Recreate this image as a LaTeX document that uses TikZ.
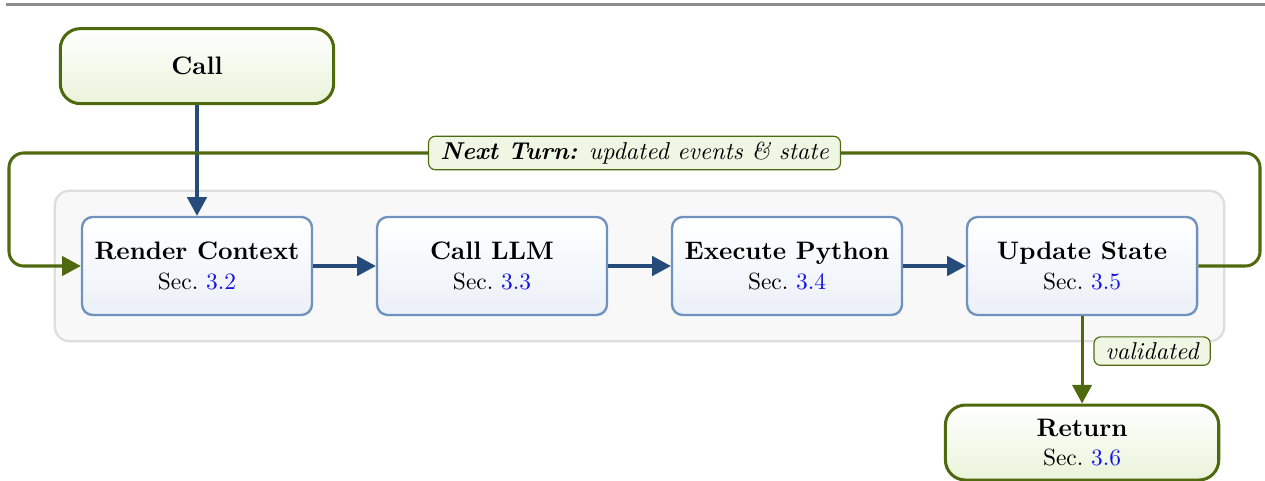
\documentclass[tikz,border=0pt]{standalone}
\usepackage{tikz}
\usetikzlibrary{arrows.meta, backgrounds, fit, positioning}
\usepackage{xcolor}

\definecolor{loopgreen}{RGB}{79,106,14}
\definecolor{flowblue}{RGB}{37,75,122}
\definecolor{boxblue}{RGB}{112,146,190}
\definecolor{boxfill}{RGB}{235,240,247}
\definecolor{endfill}{RGB}{234,243,218}
\definecolor{tagfill}{RGB}{240,246,228}
\definecolor{panelfill}{RGB}{248,248,248}
\definecolor{paneldraw}{RGB}{222,222,222}
\definecolor{rulegray}{RGB}{140,140,140}
\definecolor{secblue}{RGB}{20,20,230}

\newcommand{\secline}[1]{{\fontsize{10}{12}\selectfont Sec.~\textcolor{secblue}{#1}}}

\begin{document}
\begin{tikzpicture}[x=0.15mm, y=-0.15mm, node distance=9.4mm,
    stepbox/.style={draw=boxblue, line width=1pt, rounded corners=1.6mm,
      top color=white, bottom color=boxfill, minimum width=34.5mm,
      minimum height=14.7mm, align=center, font=\fontsize{10.8}{12.5}\selectfont},
    endbox/.style={draw=loopgreen, line width=1.3pt, rounded corners=3mm,
      top color=white, bottom color=endfill, minimum width=41mm,
      minimum height=11.25mm, align=center, font=\fontsize{10.8}{12.5}\selectfont},
    flow/.style={draw=flowblue, line width=1.4pt, -{Triangle[length=2.8mm,width=2.9mm]}},
    back/.style={draw=loopgreen, line width=1.3pt, rounded corners=2.2mm,
      -{Triangle[length=2.8mm,width=2.9mm]}},
    tag/.style={draw=loopgreen, fill=tagfill, line width=0.5pt, rounded corners=1mm,
      inner xsep=5pt, inner ysep=2.4pt, font=\fontsize{10.4}{12}\selectfont\itshape}]

  \useasboundingbox (0,0) rectangle (1265,481);
  \draw[rulegray, line width=0.45mm] (6,4.5) -- (1265,4.5);

  \node[stepbox] (render) at (197,266) {\textbf{Render Context}\\\secline{3.2}};
  \node[stepbox] (callllm) [right=of render] {\textbf{Call LLM}\\\secline{3.3}};
  \node[stepbox] (exec) [right=of callllm] {\textbf{Execute Python}\\\secline{3.4}};
  \node[stepbox] (update) [right=of exec] {\textbf{Update State}\\\secline{3.5}};

  \node[endbox] (call) [above=16.6mm of render] {\textbf{Call}};
  \node[endbox] (return) [below=13.1mm of update] {\textbf{Return}\\\secline{3.6}};

  \begin{scope}[on background layer]
    \node[draw=paneldraw, fill=panelfill, line width=1pt, rounded corners=2.2mm,
      inner xsep=3.9mm, inner ysep=3.75mm, fit=(render)(update)] (panel) {};
  \end{scope}

  \coordinate (loopNE) at (1260,153);
  \coordinate (loopNW) at (9,153);

  \draw[flow] (call) -- (render);
  \draw[flow] (render) -- (callllm);
  \draw[flow] (callllm) -- (exec);
  \draw[flow] (exec) -- (update);

  \draw[back] (update.east) -| (loopNE)
    -- node[tag] {\textbf{Next Turn:} updated events \& state} (loopNW)
    |- (render.west);
  \draw[back] (update.south) -- node[tag, right, pos=0.4, xshift=1.7mm] {validated} (return.north);
\end{tikzpicture}
\end{document}
